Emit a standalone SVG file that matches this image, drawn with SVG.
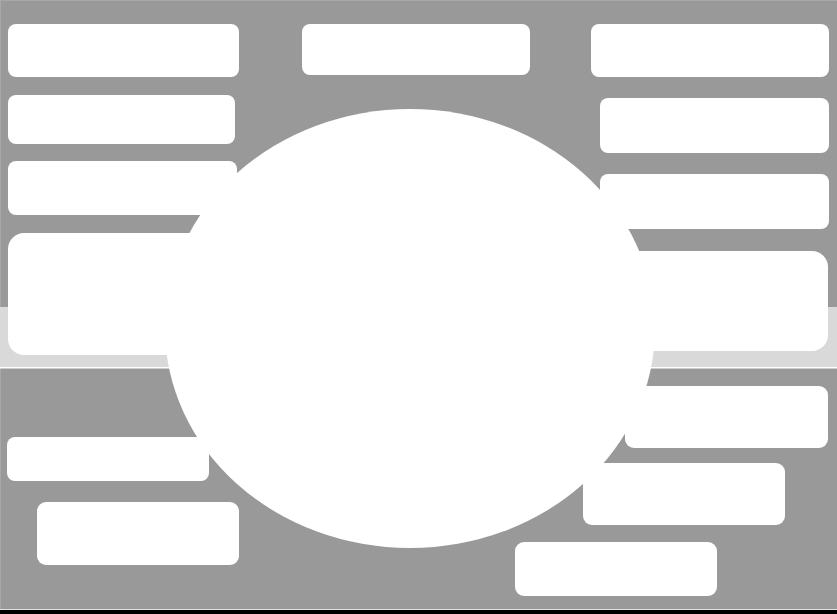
<svg xmlns="http://www.w3.org/2000/svg" width="837" height="614" viewBox="0 0 837 614">
  <style>
    .box { fill: #ffffff; }
  </style>
  <rect id="background" x="0" y="0" width="837" height="614" fill="#999999"/>
  <rect x="0" y="0" width="837" height="1" fill="#a8a8a8"/>
  <rect x="0" y="0" width="1" height="614" fill="#a8a8a8"/>
  <g id="band">
    <rect x="0" y="307" width="837" height="61" fill="#d9d9d9"/>
    <rect x="0" y="367" width="837" height="1.5" fill="#ffffff"/>
  </g>
  <g id="node-l1"><rect class="box" x="8" y="24" width="231" height="53" rx="8"/></g>
  <g id="node-l2"><rect class="box" x="8" y="95" width="227" height="49" rx="8"/></g>
  <g id="node-l3"><rect class="box" x="8" y="161" width="229" height="54" rx="8"/></g>
  <g id="node-l4"><rect class="box" x="8" y="233" width="200" height="122" rx="16"/></g>
  <g id="node-bl1"><rect class="box" x="7" y="437" width="202" height="44" rx="8"/></g>
  <g id="node-bl2"><rect class="box" x="37" y="502" width="202" height="63" rx="9"/></g>
  <g id="node-t"><rect class="box" x="302" y="24" width="228" height="51" rx="8"/></g>
  <g id="node-r1"><rect class="box" x="591" y="24" width="238" height="53" rx="8"/></g>
  <g id="node-r2"><rect class="box" x="600" y="98" width="229" height="55" rx="8"/></g>
  <g id="node-r3"><rect class="box" x="600" y="174" width="229" height="55" rx="8"/></g>
  <g id="node-r4"><rect class="box" x="620" y="251" width="208" height="100" rx="16"/></g>
  <g id="node-r5"><rect class="box" x="625" y="386" width="203" height="62" rx="9"/></g>
  <g id="node-br2"><rect class="box" x="583" y="463" width="202" height="62" rx="9"/></g>
  <g id="node-br3"><rect class="box" x="515" y="542" width="202" height="54" rx="9"/></g>
  <g id="node-center"><ellipse cx="410" cy="328.5" rx="245" ry="219.5" fill="#ffffff"/></g>
  <rect x="0" y="609" width="837" height="1" fill="#e0e0e0"/>
  <rect x="0" y="610" width="837" height="4" fill="#000000"/>
</svg>
